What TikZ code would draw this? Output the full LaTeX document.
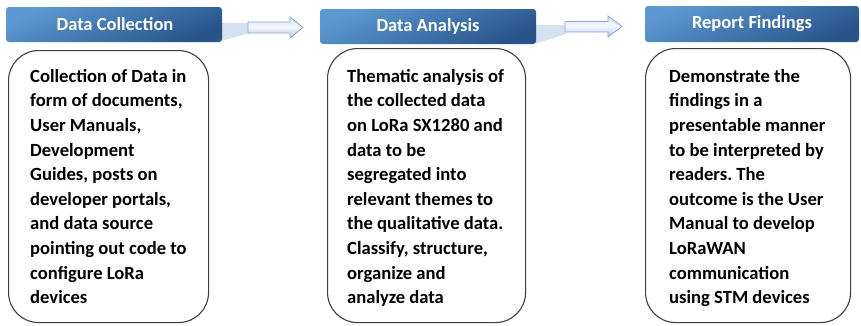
\documentclass[tikz,border=0pt]{standalone}
\usepackage{fontspec}
\setmainfont{Carlito}
\usetikzlibrary{shapes.misc}

\definecolor{hdrlight}{HTML}{5C99D3}
\definecolor{hdrdark}{HTML}{28548A}
\definecolor{fanblue}{HTML}{D3E1F0}
\definecolor{arrline}{HTML}{8DA6D2}
\definecolor{arrtop}{HTML}{D9E2F3}
\definecolor{arrmid}{HTML}{F5F8FD}
\definecolor{arrbot}{HTML}{AFC3E5}
\definecolor{boxline}{HTML}{3F3F3F}

\tikzset{
  header/.style={rounded corners=3pt, top color=hdrlight, bottom color=hdrdark,
    shading angle=25, draw=none},
  headtext/.style={text=white, font=\fontsize{18.5}{21}\selectfont\bfseries},
  fan/.style={fill=fanblue, draw=none},
  blockarrow/.style={draw=arrline, line width=0.8pt, top color=arrtop,
    bottom color=arrbot, middle color=arrmid, line join=miter},
  textbox/.style={draw=boxline, line width=1.1pt, rounded corners=30pt},
  body/.style={anchor=north west, align=left, inner sep=0pt,
    font=\fontsize{18.6}{24.6}\selectfont\bfseries\frenchspacing, text=black}
}

\begin{document}
\begin{tikzpicture}[x=1pt, y=-1pt]
  \useasboundingbox (0,0) rectangle (861,325);

  % fans joining each header to the following arrow
  \path[fan] (221,23) -- (249,23) -- (249,33) -- (221,41) -- cycle;
  \path[fan] (535,25) -- (566,25) -- (566,34) -- (535,44) -- cycle;

  % headers
  \shade[header] (6,7) rectangle (222,42);
  \node[headtext] (h1) at (115,24.5) {Data Collection};
  \shade[header] (320,9) rectangle (536,44);
  \node[headtext] (h2) at (428,26.5) {Data Analysis};
  \shade[header] (645,6) rectangle (859,42);
  \node[headtext] (h3) at (752,24) {Report Findings};

  % block arrows between the stages
  \shadedraw[blockarrow] (248,22) -- (290,22) -- (290,17) -- (303,27.5)
    -- (290,38) -- (290,33) -- (248,33) -- cycle;
  \shadedraw[blockarrow] (565,21.5) -- (608,21.5) -- (608,16) -- (622,26.5)
    -- (608,37) -- (608,32) -- (565,32) -- cycle;

  % rounded description boxes
  \node[textbox, minimum width=200pt, minimum height=272pt, anchor=north west]
    (b1) at (8,50) {};
  \node[textbox, minimum width=198pt, minimum height=274pt, anchor=north west]
    (b2) at (327,48) {};
  \node[textbox, minimum width=205pt, minimum height=274pt, anchor=north west]
    (b3) at (645,48) {};

  \node[body] (t1) at (30,69) {Collection of Data in\\form of documents,\\User Manuals,\\Development\\Guides, posts on\\developer portals,\\and data source\\pointing out code to\\configure LoRa\\devices};
  \node[body] (t2) at (347,69) {Thematic analysis of\\the collected data\\on LoRa SX1280 and\\data to be\\segregated into\\relevant themes to\\the qualitative data.\\Classify, structure,\\organize and\\analyze data};
  \node[body] (t3) at (669,69) {Demonstrate the\\findings in a\\presentable manner\\to be interpreted by\\readers. The\\outcome is the User\\Manual to develop\\LoRaWAN\\communication\\using STM devices};
\end{tikzpicture}
\end{document}
